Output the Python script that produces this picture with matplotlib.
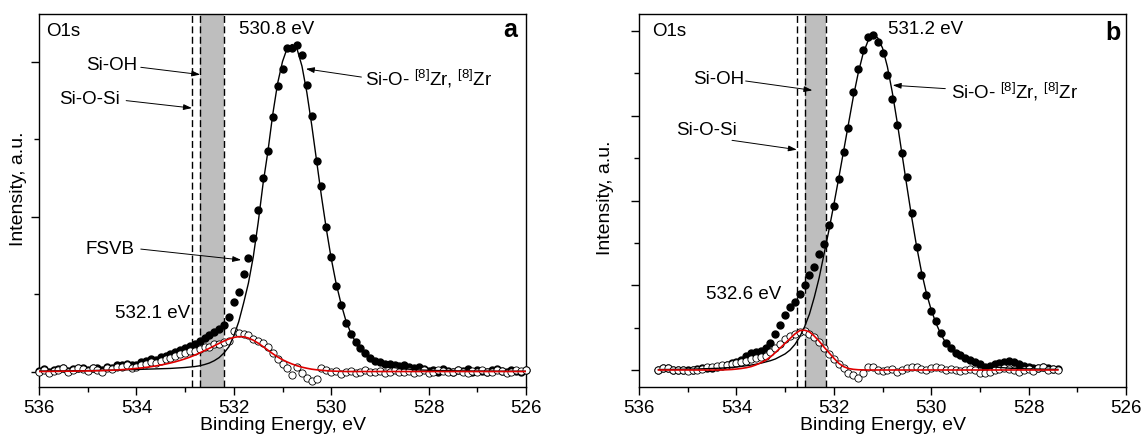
import numpy as np
import matplotlib.pyplot as plt

plt.rcParams['font.family'] = ['Liberation Sans', 'DejaVu Sans']
plt.rcParams['mathtext.fontset'] = 'custom'
plt.rcParams['mathtext.rm'] = 'Liberation Sans'

# binding energy grids (eV), 0.1 eV steps
energy_a = np.round(np.linspace(536.0, 526.0, 101), 1)
energy_b = np.round(np.linspace(535.6, 527.4, 83), 1)

# panel a: measured O1s (filled), main component fit (black),
# difference spectrum (open) and its fit (red)
data_a = [0.005, 0.015, -0.005, 0.01, 0.015, 0.025, 0.005, 0.015, 0.025, 0.02,
          0.01, 0.025, 0.02, 0.01, 0.03, 0.025, 0.04, 0.04, 0.05, 0.04,
          0.045, 0.06, 0.07, 0.08, 0.075, 0.095, 0.10, 0.11, 0.125, 0.14,
          0.15, 0.165, 0.175, 0.195, 0.215, 0.235, 0.255, 0.275, 0.30, 0.35,
          0.45, 0.51, 0.63, 0.73, 0.86, 1.04, 1.25, 1.42, 1.64, 1.84,
          1.95, 2.09, 2.09, 2.11, 2.04, 1.85, 1.65, 1.36, 1.20, 0.93,
          0.74, 0.55, 0.43, 0.31, 0.24, 0.19, 0.15, 0.12, 0.09, 0.07,
          0.06, 0.05, 0.05, 0.04, 0.035, 0.04, 0.03, 0.025, 0.03, 0.015,
          0.005, 0.01, 0.0, 0.015, 0.005, 0.0, 0.01, 0.005, 0.015, 0.0,
          0.01, 0.005, 0.0, 0.01, 0.015, 0.005, 0.0, 0.01, 0.005, 0.0,
          0.01]
fit_a = [0.003, 0.003, 0.003, 0.004, 0.004, 0.004, 0.004, 0.005, 0.005, 0.005,
         0.006, 0.006, 0.007, 0.007, 0.008, 0.009, 0.009, 0.010, 0.011, 0.012,
         0.013, 0.014, 0.015, 0.016, 0.017, 0.018, 0.019, 0.020, 0.022, 0.024,
         0.026, 0.029, 0.032, 0.037, 0.045, 0.055, 0.07, 0.09, 0.12, 0.16,
         0.23, 0.32, 0.44, 0.57, 0.74, 0.96, 1.21, 1.42, 1.66, 1.86,
         2.00, 2.09, 2.11, 2.08, 1.97, 1.80, 1.59, 1.36, 1.13, 0.92,
         0.73, 0.57, 0.44, 0.33, 0.25, 0.19, 0.14, 0.11, 0.08, 0.06,
         0.045, 0.037, 0.030, 0.025, 0.020, 0.017, 0.015, 0.012, 0.010, 0.009,
         0.008, 0.007, 0.006, 0.006, 0.005, 0.005, 0.004, 0.004, 0.004, 0.003,
         0.003, 0.003, 0.003, 0.003, 0.002, 0.002, 0.002, 0.002, 0.002, 0.002,
         0.002]
diff_a = [0.0, 0.01, -0.01, 0.005, 0.01, 0.02, 0.0, 0.01, 0.02, 0.015,
          0.005, 0.02, 0.01, 0.0, 0.02, 0.015, 0.03, 0.03, 0.04, 0.025,
          0.03, 0.045, 0.05, 0.06, 0.055, 0.07, 0.08, 0.09, 0.10, 0.115,
          0.12, 0.13, 0.13, 0.145, 0.155, 0.16, 0.175, 0.18, 0.19, 0.20,
          0.26, 0.25, 0.245, 0.235, 0.21, 0.195, 0.185, 0.16, 0.12, 0.08,
          0.05, 0.02, -0.025, 0.03, -0.01, -0.045, -0.06, -0.05, 0.025, 0.01,
          0.0, 0.005, -0.015, 0.0, 0.005, -0.01, 0.0, 0.01, -0.005, 0.0,
          0.005, -0.01, 0.0, 0.01, -0.005, 0.0, 0.005, -0.01, 0.0, 0.01,
          -0.01, 0.0, 0.01, 0.005, -0.005, 0.0, 0.01, 0.0, -0.01, 0.005,
          0.0, 0.01, -0.005, 0.0, 0.01, 0.005, -0.01, 0.0, 0.01, 0.005,
          0.01]
diff_fit_a = [0.0, 0.0, 0.001, 0.001, 0.001, 0.002, 0.002, 0.002, 0.003, 0.003,
              0.004, 0.004, 0.005, 0.006, 0.007, 0.008, 0.010, 0.012, 0.014, 0.017,
              0.020, 0.023, 0.027, 0.031, 0.036, 0.042, 0.048, 0.055, 0.063, 0.072,
              0.082, 0.093, 0.106, 0.12, 0.135, 0.15, 0.166, 0.182, 0.197, 0.21,
              0.22, 0.225, 0.224, 0.216, 0.202, 0.183, 0.161, 0.138, 0.115, 0.094,
              0.076, 0.061, 0.048, 0.037, 0.028, 0.021, 0.015, 0.011, 0.008, 0.005,
              0.003, 0.002, 0.001, 0.0, 0.0, 0.0, 0.0, 0.0, 0.0, 0.0,
              0.0, 0.0, 0.0, 0.0, 0.0, 0.0, 0.0, 0.0, 0.0, 0.0,
              0.0, 0.0, 0.0, 0.0, 0.0, 0.0, 0.0, 0.0, 0.0, 0.0,
              0.0, 0.0, 0.0, 0.0, 0.0, 0.0, 0.0, 0.0, 0.0, 0.0,
              0.0]

# panel b
data_b = [0.0, 0.025, 0.025, 0.005, 0.0, 0.005, -0.005, 0.0, 0.01, 0.02,
          0.02, 0.025, 0.035, 0.045, 0.06, 0.08, 0.10, 0.12, 0.16, 0.195,
          0.215, 0.23, 0.26, 0.32, 0.43, 0.53, 0.65, 0.74, 0.80, 0.90,
          1.00, 1.12, 1.22, 1.37, 1.49, 1.71, 1.93, 2.25, 2.57, 2.85,
          3.28, 3.55, 3.78, 3.93, 3.95, 3.87, 3.74, 3.48, 3.20, 2.89,
          2.56, 2.28, 1.85, 1.45, 1.12, 0.88, 0.70, 0.58, 0.44, 0.32,
          0.26, 0.205, 0.175, 0.14, 0.115, 0.09, 0.07, 0.04, 0.045, 0.065,
          0.08, 0.09, 0.11, 0.10, 0.07, 0.045, 0.03, 0.025, 0.02, 0.03,
          0.02, 0.015, 0.01]
fit_b = [0.005, 0.006, 0.006, 0.007, 0.008, 0.009, 0.010, 0.011, 0.012, 0.014,
         0.016, 0.018, 0.02, 0.023, 0.027, 0.031, 0.036, 0.042, 0.05, 0.058,
         0.068, 0.08, 0.095, 0.11, 0.13, 0.16, 0.19, 0.235, 0.30, 0.39,
         0.51, 0.66, 0.86, 1.09, 1.37, 1.65, 1.95, 2.26, 2.58, 2.90,
         3.22, 3.50, 3.73, 3.88, 3.95, 3.92, 3.80, 3.58, 3.28, 2.93,
         2.55, 2.17, 1.80, 1.46, 1.16, 0.91, 0.71, 0.55, 0.42, 0.32,
         0.25, 0.19, 0.15, 0.115, 0.09, 0.07, 0.055, 0.047, 0.04, 0.035,
         0.03, 0.026, 0.022, 0.019, 0.017, 0.015, 0.013, 0.012, 0.011, 0.01,
         0.009, 0.008, 0.007]
diff_b = [0.0, 0.02, 0.02, 0.0, -0.005, 0.0, -0.01, -0.005, 0.0, 0.015,
          0.03, 0.04, 0.045, 0.06, 0.06, 0.075, 0.08, 0.09, 0.11, 0.13,
          0.14, 0.155, 0.17, 0.21, 0.26, 0.31, 0.36, 0.40, 0.43, 0.45,
          0.46, 0.43, 0.39, 0.33, 0.26, 0.19, 0.13, 0.07, 0.02, -0.03,
          -0.06, -0.10, -0.04, 0.04, 0.03, 0.0, -0.01, 0.0, 0.01, -0.02,
          0.0, 0.02, 0.03, 0.03, 0.01, 0.0, 0.02, 0.03, 0.02, 0.0,
          0.01, 0.0, -0.01, 0.0, 0.01, 0.0, -0.03, -0.04, -0.02, 0.0,
          0.01, 0.02, 0.01, 0.0, -0.02, 0.0, 0.01, -0.01, 0.02, 0.03,
          0.0, 0.01, 0.0]
diff_fit_b = [0.0, 0.0, 0.0, 0.0, 0.0, 0.0, 0.0, 0.0, 0.0, 0.0,
              0.0, 0.0, 0.0, 0.001, 0.003, 0.006, 0.011, 0.018, 0.027, 0.04,
              0.06, 0.085, 0.115, 0.155, 0.205, 0.26, 0.315, 0.37, 0.425, 0.465,
              0.47, 0.45, 0.40, 0.34, 0.27, 0.205, 0.14, 0.08, 0.04, 0.018,
              0.008, 0.003, 0.001, 0.0, 0.0, 0.0, 0.0, 0.0, 0.0, 0.0,
              0.0, 0.0, 0.0, 0.0, 0.0, 0.0, 0.0, 0.0, 0.0, 0.0,
              0.0, 0.0, 0.0, 0.0, 0.0, 0.0, 0.0, 0.0, 0.0, 0.0,
              0.0, 0.0, 0.0, 0.0, 0.0, 0.0, 0.0, 0.0, 0.0, 0.0,
              0.0, 0.0, 0.0]

zr_label = r"Si-O- $\mathregular{^{[8]}}$Zr, $\mathregular{^{[8]}}$Zr"

panels = [
    dict(E=energy_a, data=data_a, fit=fit_a, diff=diff_a, dfit=diff_fit_a,
         ylim=(-0.098, 2.305), yticks=[0, 1, 2], minor=[0.5, 1.5],
         vline=532.85, band=(532.7, 532.2), letter='a', o1s_x=0.014,
         letter_xy=(0.982, 0.94), ylab=(-0.043, 0.531),
         peak=('530.8 eV', 531.89, 2.21), low=('532.1 eV', 532.90, 0.372),
         arrows=[('Si-OH', (533.99, 1.974), (533.91, 1.963), (532.69, 1.916), 'right'),
                 ('Si-O-Si', (534.34, 1.755), (534.21, 1.748), (532.86, 1.70), 'right'),
                 (zr_label, (529.30, 1.888), (529.38, 1.90), (530.52, 1.953), 'left'),
                 ('FSVB', (534.04, 0.785), (533.91, 0.79), (531.85, 0.72), 'right')]),
    dict(E=energy_b, data=data_b, fit=fit_b, diff=diff_b, dfit=diff_fit_b,
         ylim=(-0.197, 4.197), yticks=[0, 1, 2, 3, 4], minor=[0.5, 1.5, 2.5, 3.5],
         vline=532.75, band=(532.6, 532.15), letter='b', o1s_x=0.026,
         letter_xy=(0.989, 0.931), ylab=(-0.069, 0.507),
         peak=('531.2 eV', 530.89, 4.02), low=('532.6 eV', 533.08, 0.885),
         arrows=[('Si-OH', (533.83, 3.43), (533.81, 3.41), (532.44, 3.30), 'right'),
                 ('Si-O-Si', (533.99, 2.83), (534.09, 2.71), (532.76, 2.60), 'right'),
                 (zr_label, (529.60, 3.28), (529.71, 3.32), (530.79, 3.36), 'left')]),
]

fig = plt.figure(figsize=(11.46, 4.38), dpi=100)
lefts = [39 / 1146, 639 / 1146]
fs = 13.5

for p, left in zip(panels, lefts):
    ax = fig.add_axes([left, 51.3 / 438, 487 / 1146, 372.4 / 438])

    ax.axvspan(p['band'][0], p['band'][1], color='#bebebe', lw=0, zorder=0)
    for xv in [p['vline'], p['band'][0], p['band'][1]]:
        ax.axvline(xv, color='k', lw=1.0, ls=(0, (5, 2.5)), zorder=1)

    ax.plot(p['E'], p['data'], 'o', color='k', ms=5.0, zorder=2, clip_on=False)
    ax.plot(p['E'], p['diff'], 'o', mfc='white', mec='k', mew=0.6, ms=5.2,
            zorder=3, clip_on=False)
    ax.plot(p['E'], p['fit'], '-', color='k', lw=1.0, zorder=4)
    ax.plot(p['E'], p['dfit'], '-', color='#e00000', lw=1.2, zorder=5)

    ax.set_xlim(536, 526)
    ax.set_ylim(*p['ylim'])
    ax.set_xticks([536, 534, 532, 530, 528, 526])
    ax.set_xticks([535, 533, 531, 529, 527], minor=True)
    ax.set_yticks(p['yticks'])
    ax.set_yticks(p['minor'], minor=True)
    ax.set_yticklabels([])
    ax.tick_params(axis='both', which='major', direction='out', length=6,
                   width=1.0, labelsize=fs, top=False, right=False)
    ax.tick_params(axis='both', which='minor', direction='out', length=3.5,
                   width=1.0, top=False, right=False)
    for s in ax.spines.values():
        s.set_linewidth(1.0)

    ax.set_xlabel('Binding Energy, eV', fontsize=14)
    ax.xaxis.set_label_coords(0.5, -0.103)
    ax.xaxis.label.set_va('center')
    ax.set_ylabel('Intensity, a.u.', fontsize=14)
    ax.yaxis.set_label_coords(*p['ylab'])
    ax.yaxis.label.set_va('center')

    ax.text(p['o1s_x'], 0.953, 'O1s', transform=ax.transAxes, fontsize=fs,
            ha='left', va='center')
    ax.text(p['letter_xy'][0], p['letter_xy'][1], p['letter'], transform=ax.transAxes,
            fontsize=18, fontweight='bold', ha='right', va='baseline')

    ax.text(p['peak'][1], p['peak'][2], p['peak'][0], fontsize=fs,
            ha='left', va='center')
    ax.text(p['low'][1], p['low'][2], p['low'][0], fontsize=fs,
            ha='right', va='center')

    for label, txy, tail, head, ha in p['arrows']:
        ax.text(txy[0], txy[1], label, fontsize=fs, ha=ha, va='center', zorder=6)
        ax.annotate('', xy=head, xytext=tail,
                    arrowprops=dict(arrowstyle='-|>,head_length=0.5,head_width=0.17',
                                    color='k', lw=0.7, shrinkA=0, shrinkB=0),
                    zorder=6)

fig.savefig('out.png', dpi=100, facecolor='white')
